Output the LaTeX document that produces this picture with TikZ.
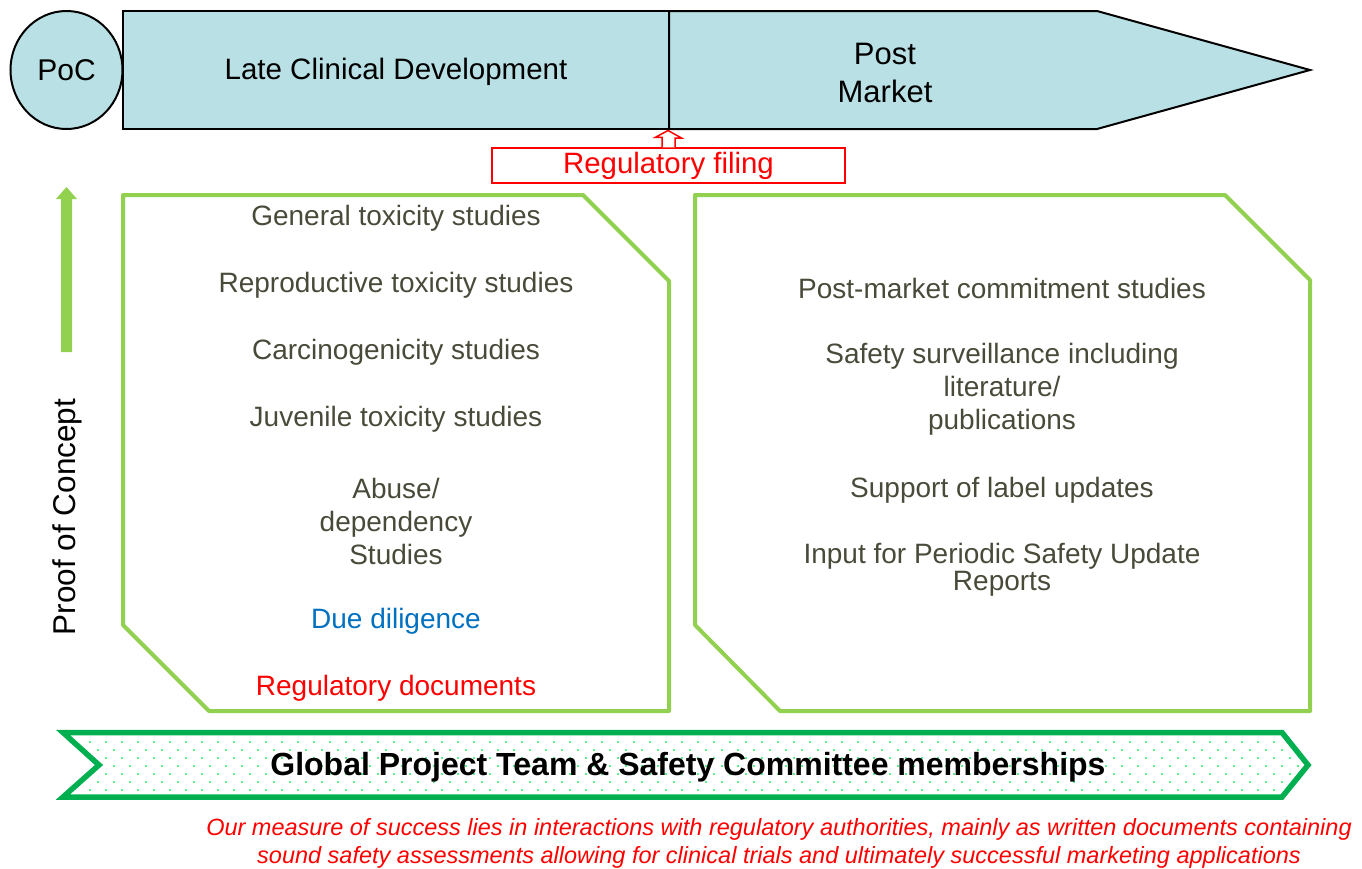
\documentclass[tikz,border=0pt]{standalone}
\usepackage{fontspec}
\usetikzlibrary{shapes.geometric}
\setmainfont{Liberation Sans}
\definecolor{barblue}{HTML}{B9E0E4}
\definecolor{boxgreen}{HTML}{92D050}
\definecolor{chevgreen}{HTML}{00B050}
\definecolor{dotgreen}{HTML}{5CF08A}
\definecolor{olive}{HTML}{4A4A3A}
\definecolor{dueblue}{HTML}{0070C0}
\tikzset{
  barshape/.style={draw=black, line width=2pt, fill=barblue},
  greenbox/.style={draw=boxgreen, line width=4pt, line join=round},
  bigtxt/.style={font=\fontsize{28}{33}\selectfont, align=center, inner sep=0pt},
  itemtxt/.style={bigtxt, text=olive},
}
\begin{document}
\begin{tikzpicture}[x=1pt,y=-1pt]
\useasboundingbox (0,0) rectangle (1362,868);
% top bar
\draw[barshape] (669,11) -- (1097,11) -- (1310,70) -- (1097,129) -- (669,129) -- cycle;
\draw[barshape] (123,11) rectangle (669,129);
\node[draw=black, line width=2pt, fill=barblue, ellipse, minimum width=112pt, minimum height=118pt, inner sep=0pt, font=\fontsize{30}{33}\selectfont] (poc) at (66.5,70) {PoC};
\node[bigtxt, font=\fontsize{29.5}{33}\selectfont] (lcd) at (396,72) {Late Clinical Development};
\node[bigtxt, font=\fontsize{31}{38}\selectfont] (pm) at (885,73) {Post\\Market};
\coordinate (tip) at (668,130.5);
% regulatory filing
\node[draw=red, line width=1.5pt, fill=white, minimum width=353pt, minimum height=35pt, inner sep=0pt, text=red, font=\fontsize{29.4}{33}\selectfont] (filing) at (668.5,165.5) {Regulatory filing};
\draw[red, line width=1.5pt, fill=white] ([xshift=-6.5pt]filing.north) -- ++(0,-10) -- ++(-6.5,0) -- (tip) -- ++(13.5,7.5) -- ++(-6.5,0) -- ([xshift=6.5pt]filing.north);
% proof of concept arrow
\fill[boxgreen] (61,352) -- (61,199) -- (56,199) -- (66.5,187) -- (77,199) -- (72,199) -- (72,352) -- cycle;
\node[bigtxt, rotate=90, font=\fontsize{31.5}{33}\selectfont] (poctxt) at (67,517) {Proof of Concept};
% left green box
\draw[greenbox] (123,195) -- (583,195) -- (669,281) -- (669,711) -- (209,711) -- (123,625) -- cycle;
\node[itemtxt] (gen) at (396,218) {General toxicity studies};
\node[itemtxt] (rep) at (396,285) {Reproductive toxicity studies};
\node[itemtxt] (car) at (396,352) {Carcinogenicity studies};
\node[itemtxt] (juv) at (396,419) {Juvenile toxicity studies};
\node[itemtxt] (abu) at (396,521) {Abuse/\\dependency\\Studies};
\node[bigtxt, text=dueblue] (due) at (396,621) {Due diligence};
\node[bigtxt, text=red] (regdoc) at (396,688) {Regulatory documents};
% right green box
\draw[greenbox] (695,195) -- (1225,195) -- (1310,280) -- (1310,711) -- (780,711) -- (695,625) -- cycle;
\node[itemtxt] (pmc) at (1002,288) {Post-market commitment studies};
\node[itemtxt] (ssu) at (1002,389) {Safety surveillance including\\literature/\\publications};
\node[itemtxt] (slu) at (1002,490) {Support of label updates};
\node[itemtxt, font=\fontsize{28}{27}\selectfont] (psu) at (1002,570) {Input for Periodic Safety Update\\Reports};
% chevron
\begin{scope}
\clip (63,732.5) -- (1282,732.5) -- (1308,765) -- (1282,797) -- (63,797) -- (99,765) -- cycle;
\foreach \j in {0,...,6} {
  \pgfmathsetmacro{\off}{mod(\j,2)*8}
  \foreach \i in {0,...,77} {
    \fill[dotgreen] (89+\off+\i*16, 740.7+\j*8) rectangle ++(2,2);
  }
}
\end{scope}
\draw[chevgreen, line width=5.5pt, line join=miter] (63,732.5) -- (1282,732.5) -- (1308,765) -- (1282,797) -- (63,797) -- (99,765) -- cycle;
\node[font=\fontsize{32}{34}\selectfont\bfseries, inner sep=0pt] (gpt) at (688,767) {Global Project Team \& Safety Committee memberships};
% footer
\node[font=\fontsize{23.5}{28}\selectfont\itshape, text=red, align=center, inner sep=0pt] (foot) at (779,843) {Our measure of success lies in interactions with regulatory authorities, mainly as written documents containing\\sound safety assessments allowing for clinical trials and ultimately successful marketing applications};
\end{tikzpicture}
\end{document}
